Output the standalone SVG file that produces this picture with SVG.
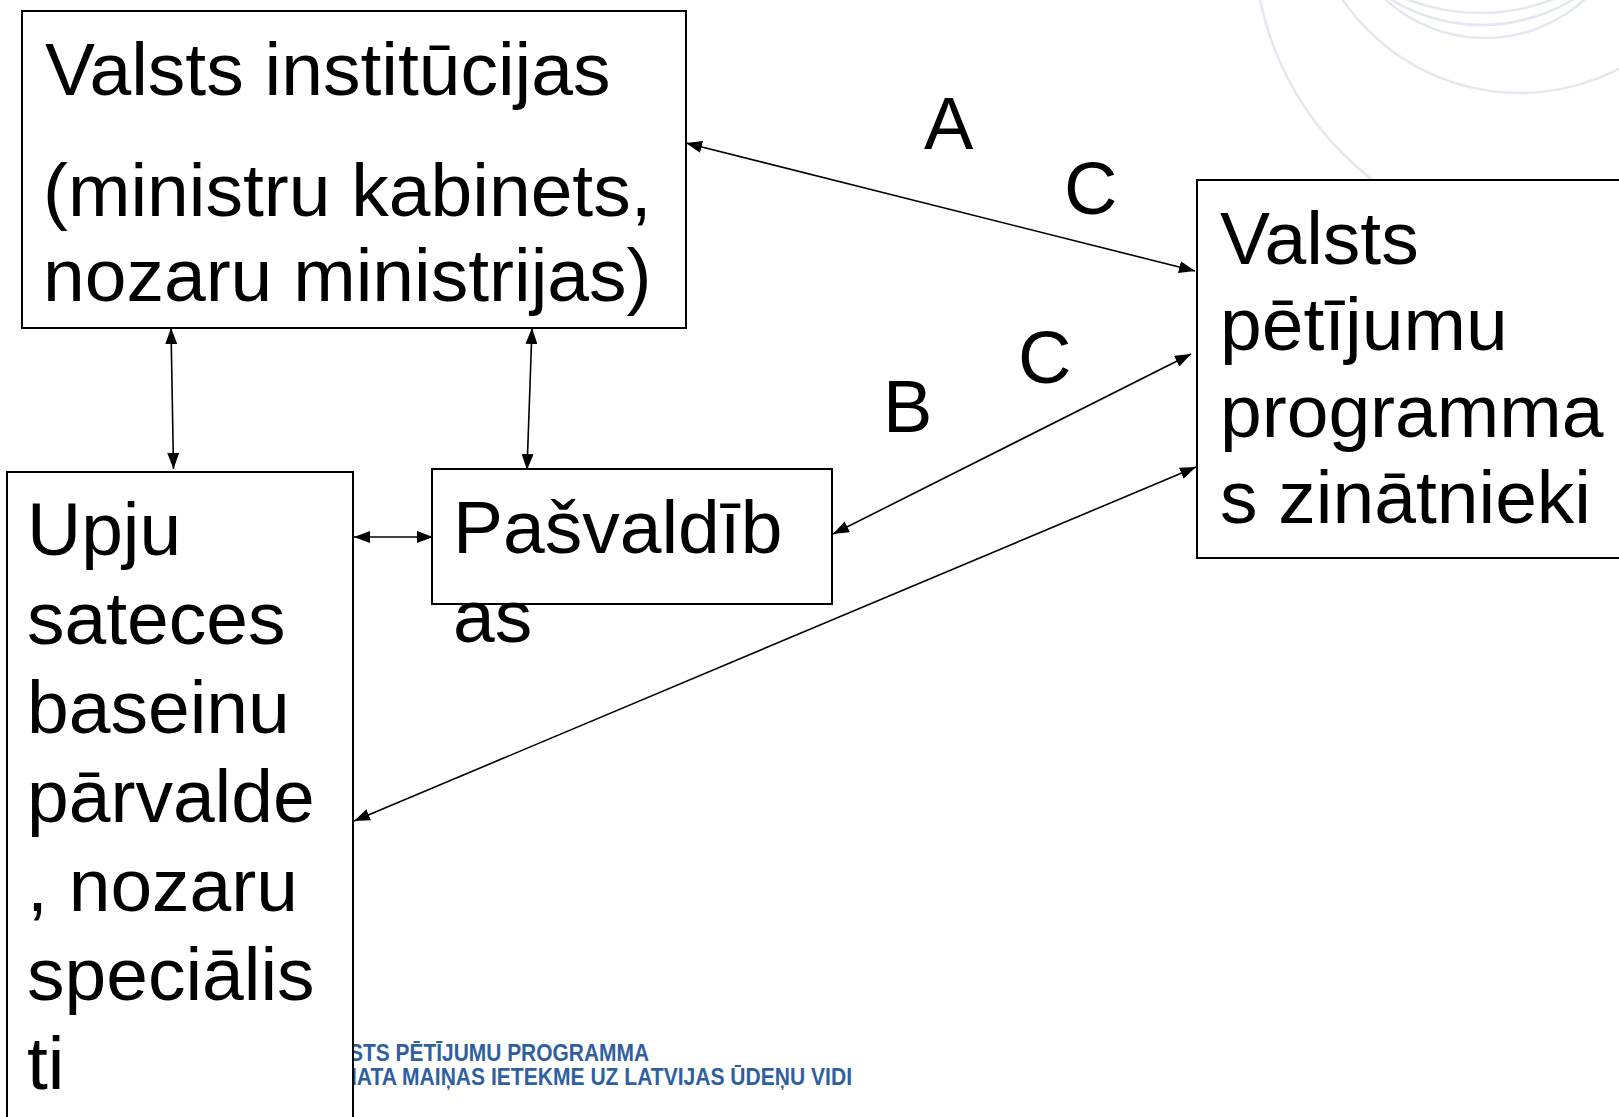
<svg xmlns="http://www.w3.org/2000/svg" width="1619" height="1117" viewBox="0 0 1619 1117">
<defs>
<style>
.bg{fill:none;stroke:#e3e7ef;stroke-width:2.5}
.box{fill:#ffffff;stroke:#000000;stroke-width:2}
.t{font-family:"Liberation Sans",Arial,sans-serif;font-size:75px;fill:#000000}
.lbl{font-family:"Liberation Sans",Arial,sans-serif;font-size:74px;fill:#000000}
.logo{font-family:"Liberation Sans",Arial,sans-serif;font-weight:bold;font-size:23px;fill:#2f5f9f}
.c{fill:none;stroke:#000000;stroke-width:1.6;marker-start:url(#ah);marker-end:url(#ah)}
</style>
<marker id="ah" viewBox="0 0 16 12" refX="16" refY="6" markerWidth="16" markerHeight="12" markerUnits="userSpaceOnUse" orient="auto-start-reverse">
<path d="M0,0 L16,6 L0,12 z" fill="#000000"/>
</marker>
</defs>
<rect x="0" y="0" width="1619" height="1117" fill="#ffffff"/>
<g id="watermark">
<circle class="bg" cx="1558" cy="-61" r="304"/>
<circle class="bg" cx="1520" cy="-122" r="215"/>
<circle class="bg" cx="1480" cy="-190" r="203"/>
<circle class="bg" cx="1482" cy="-150" r="175"/>
<circle class="bg" cx="1485" cy="-110" r="148"/>
</g>
<g id="logo-text">
<text class="logo"><tspan x="349" y="1061" textLength="300" lengthAdjust="spacingAndGlyphs">STS PĒTĪJUMU PROGRAMMA</tspan><tspan x="351" y="1085" textLength="501" lengthAdjust="spacingAndGlyphs">IATA MAIŅAS IETEKME UZ LATVIJAS ŪDEŅU VIDI</tspan></text>
</g>
<g id="node-valsts-institucijas">
<rect class="box" x="22" y="11" width="664" height="317"/>
<text class="t" x="45" y="95">Valsts institūcijas</text>
<text class="t" x="43" y="216">(ministru kabinets,</text>
<text class="t" x="43" y="301">nozaru ministrijas)</text>
</g>
<g id="node-petijumu-programma">
<rect class="box" x="1197" y="180" width="430" height="378"/>
<text class="t" x="1220" y="264">Valsts</text>
<text class="t" x="1220" y="350">pētījumu</text>
<text class="t" x="1220" y="437">programma</text>
<text class="t" x="1220" y="523">s zinātnieki</text>
</g>
<g id="node-upju-baseinu">
<rect class="box" x="7" y="472" width="346" height="660"/>
<text class="t" x="27" y="555">Upju</text>
<text class="t" x="27" y="644">sateces</text>
<text class="t" x="27" y="733">baseinu</text>
<text class="t" x="27" y="822">pārvalde</text>
<text class="t" x="27" y="911">, nozaru</text>
<text class="t" x="27" y="1000">speciālis</text>
<text class="t" x="27" y="1089">ti</text>
</g>
<g id="node-pasvaldibas">
<rect class="box" x="432" y="469" width="400" height="135"/>
<text class="t" x="453" y="553">Pašvaldīb</text>
<text class="t" x="453" y="642">as</text>
</g>
<g id="connectors">
<line class="c" x1="686" y1="143" x2="1195" y2="271"/>
<line class="c" x1="171" y1="328" x2="173.5" y2="469"/>
<line class="c" x1="532" y1="328" x2="527" y2="470"/>
<line class="c" x1="354" y1="537" x2="433" y2="537"/>
<line class="c" x1="833" y1="534" x2="1191" y2="354"/>
<line class="c" x1="354" y1="821" x2="1196" y2="467"/>
</g>
<g id="labels">
<text class="lbl" x="924" y="149">A</text>
<text class="lbl" x="1064" y="214">C</text>
<text class="lbl" x="1018" y="383">C</text>
<text class="lbl" x="883" y="432">B</text>
</g>
</svg>
